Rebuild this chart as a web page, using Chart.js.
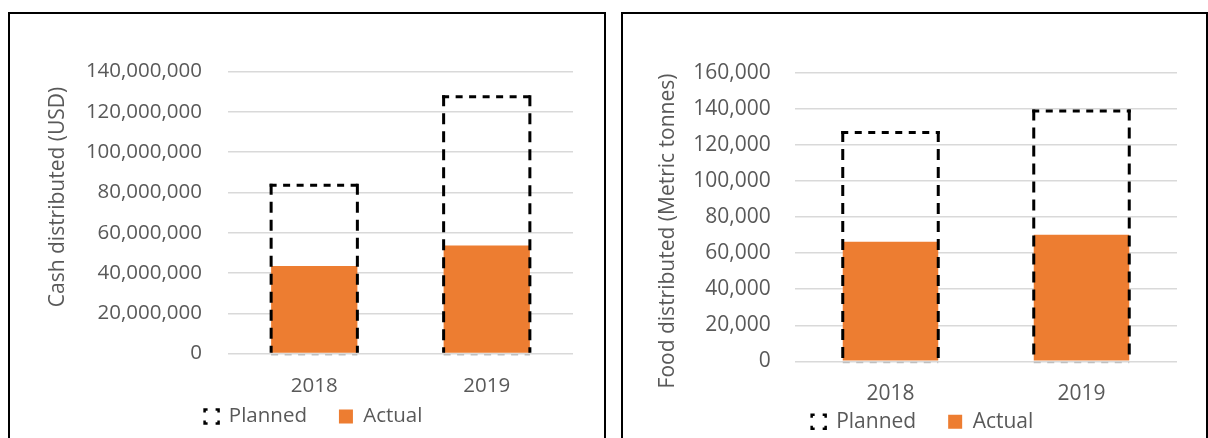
<!DOCTYPE html>
<html>
<head>
<meta charset="utf-8">
<script src="https://cdn.jsdelivr.net/npm/chart.js@4.4.1/dist/chart.umd.min.js"></script>
<style>
    html, body { margin: 0; padding: 0; background: #fff; overflow: hidden; }
    .panel { position: absolute; top: 12px; height: 430px; border: 2px solid #000; background: #fff; }
    #cashPanel { left: 8px; width: 594px; }
    #foodPanel { left: 621px; width: 583px; }
    .panel canvas { display: block; }
</style>
</head>
<body>
<div class="panel" id="cashPanel"><canvas id="cashChart" width="594" height="430"></canvas></div>
<div class="panel" id="foodPanel"><canvas id="foodChart" width="583" height="430"></canvas></div>
<script>
const years = ['2018', '2019'];
const cashPlanned = [83500000, 127500000];
const cashActual = [43500000, 53600000];
const cashTicks = [0, 20000000, 40000000, 60000000, 80000000, 100000000, 120000000, 140000000];
const foodPlanned = [127000, 138900];
const foodActual = [66300, 70300];
const foodTicks = [0, 20000, 40000, 60000, 80000, 100000, 120000, 140000, 160000];

Chart.defaults.font.family = "'Open Sans', sans-serif";
Chart.defaults.color = '#595959';

// planned bars are drawn as a dashed outline on top of the actual bars
const dashedOutline = {
    id: 'dashedOutline',
    afterDatasetsDraw(chart) {
        const ctx = chart.ctx;
        const meta = chart.getDatasetMeta(0);
        ctx.save();
        meta.data.forEach(bar => {
            const { x, y, base, width } = bar.getProps(['x', 'y', 'base', 'width'], true);
            const l = x - width / 2, r = x + width / 2;
            // sides
            ctx.setLineDash([11, 7]);
            ctx.lineWidth = 3;
            ctx.strokeStyle = '#000';
            ctx.beginPath();
            ctx.moveTo(l, y - 1.5);
            ctx.lineTo(l, base);
            ctx.moveTo(r, y - 1.5);
            ctx.lineTo(r, base);
            ctx.stroke();
            // top
            ctx.setLineDash([7, 6.5]);
            ctx.beginPath();
            ctx.moveTo(l - 1.5, y);
            ctx.lineTo(r + 1.5, y);
            ctx.stroke();
            // bottom edge, faint under the zero line
            ctx.lineWidth = 1.5;
            ctx.strokeStyle = '#BFBFBF';
            ctx.beginPath();
            ctx.moveTo(l, base + 2);
            ctx.lineTo(r, base + 2);
            ctx.stroke();
        });
        ctx.restore();
    }
};

const sideTitle = {
    id: 'sideTitle',
    afterDraw(chart, args, opts) {
        const ctx = chart.ctx;
        ctx.save();
        ctx.translate(opts.x, opts.y);
        ctx.rotate(-Math.PI / 2);
        ctx.font = opts.size + "px 'Open Sans'";
        ctx.fillStyle = '#595959';
        ctx.textAlign = 'center';
        ctx.textBaseline = 'middle';
        ctx.fillText(opts.text, 0, 0);
        ctx.restore();
    }
};

function makeChart(id, planned, actual, ticks, s) {
    new Chart(document.getElementById(id), {
        type: 'bar',
        data: {
            labels: years,
            datasets: [{
                label: 'Planned',
                data: planned,
                backgroundColor: 'rgba(0,0,0,0)',
                borderWidth: 0
            }, {
                label: 'Actual',
                data: actual,
                backgroundColor: '#ED7D31',
                borderWidth: 0
            }]
        },
        plugins: [dashedOutline, sideTitle],
        options: {
            responsive: false,
            animation: false,
            datasets: { bar: { grouped: false, barPercentage: 0.5, categoryPercentage: 1 } },
            layout: { padding: s.padding },
            plugins: {
                tooltip: { enabled: false },
                sideTitle: { text: s.title, x: s.titleX, y: s.titleY, size: 21 },
                legend: {
                    position: 'bottom',
                    labels: {
                        boxWidth: 14,
                        boxHeight: 14,
                        padding: 32,
                        font: { size: s.font },
                        generateLabels(chart) {
                            const items = Chart.defaults.plugins.legend.labels.generateLabels(chart);
                            items[0].fillStyle = 'rgba(0,0,0,0)';
                            items[0].strokeStyle = '#000';
                            items[0].lineWidth = 2.5;
                            items[0].lineDash = [6, 8];
                            items[0].lineDashOffset = 3;
                            items[1].lineWidth = 0;
                            return items;
                        }
                    }
                }
            },
            scales: {
                x: {
                    grid: { display: false },
                    border: { display: false },
                    // mirror keeps the labels unclipped below the short axis box
                    ticks: { mirror: true, padding: -s.xPad, font: { size: s.font } },
                    afterFit: sc => { sc.height = s.xHeight; }
                },
                y: {
                    min: 0,
                    max: ticks[ticks.length - 1],
                    afterBuildTicks: sc => { sc.ticks = ticks.map(v => ({ value: v })); },
                    afterFit: sc => { sc.width = s.yWidth; },
                    grid: { color: '#D9D9D9', lineWidth: 1.5, drawTicks: false },
                    border: { display: false },
                    ticks: {
                        padding: s.yPad,
                        font: { size: s.font },
                        callback: v => v.toLocaleString('en-US')
                    }
                }
            }
        }
    });
}

makeChart('cashChart', cashPlanned, cashActual, cashTicks, {
    title: 'Cash distributed (USD)', titleX: 48, titleY: 183,
    padding: { top: 57.5, right: 31, bottom: 7.25, left: 44 },
    font: 20.5, xPad: 45, xHeight: 20.65, yWidth: 174, yPad: 26
});

makeChart('foodChart', foodPlanned, foodActual, foodTicks, {
    title: 'Food distributed (Metric tonnes)', titleX: 45, titleY: 217,
    padding: { top: 59, right: 29, bottom: 1.8, left: 45 },
    font: 21, xPad: 45, xHeight: 17.9, yWidth: 127, yPad: 24.3
});
</script>
</body>
</html>
